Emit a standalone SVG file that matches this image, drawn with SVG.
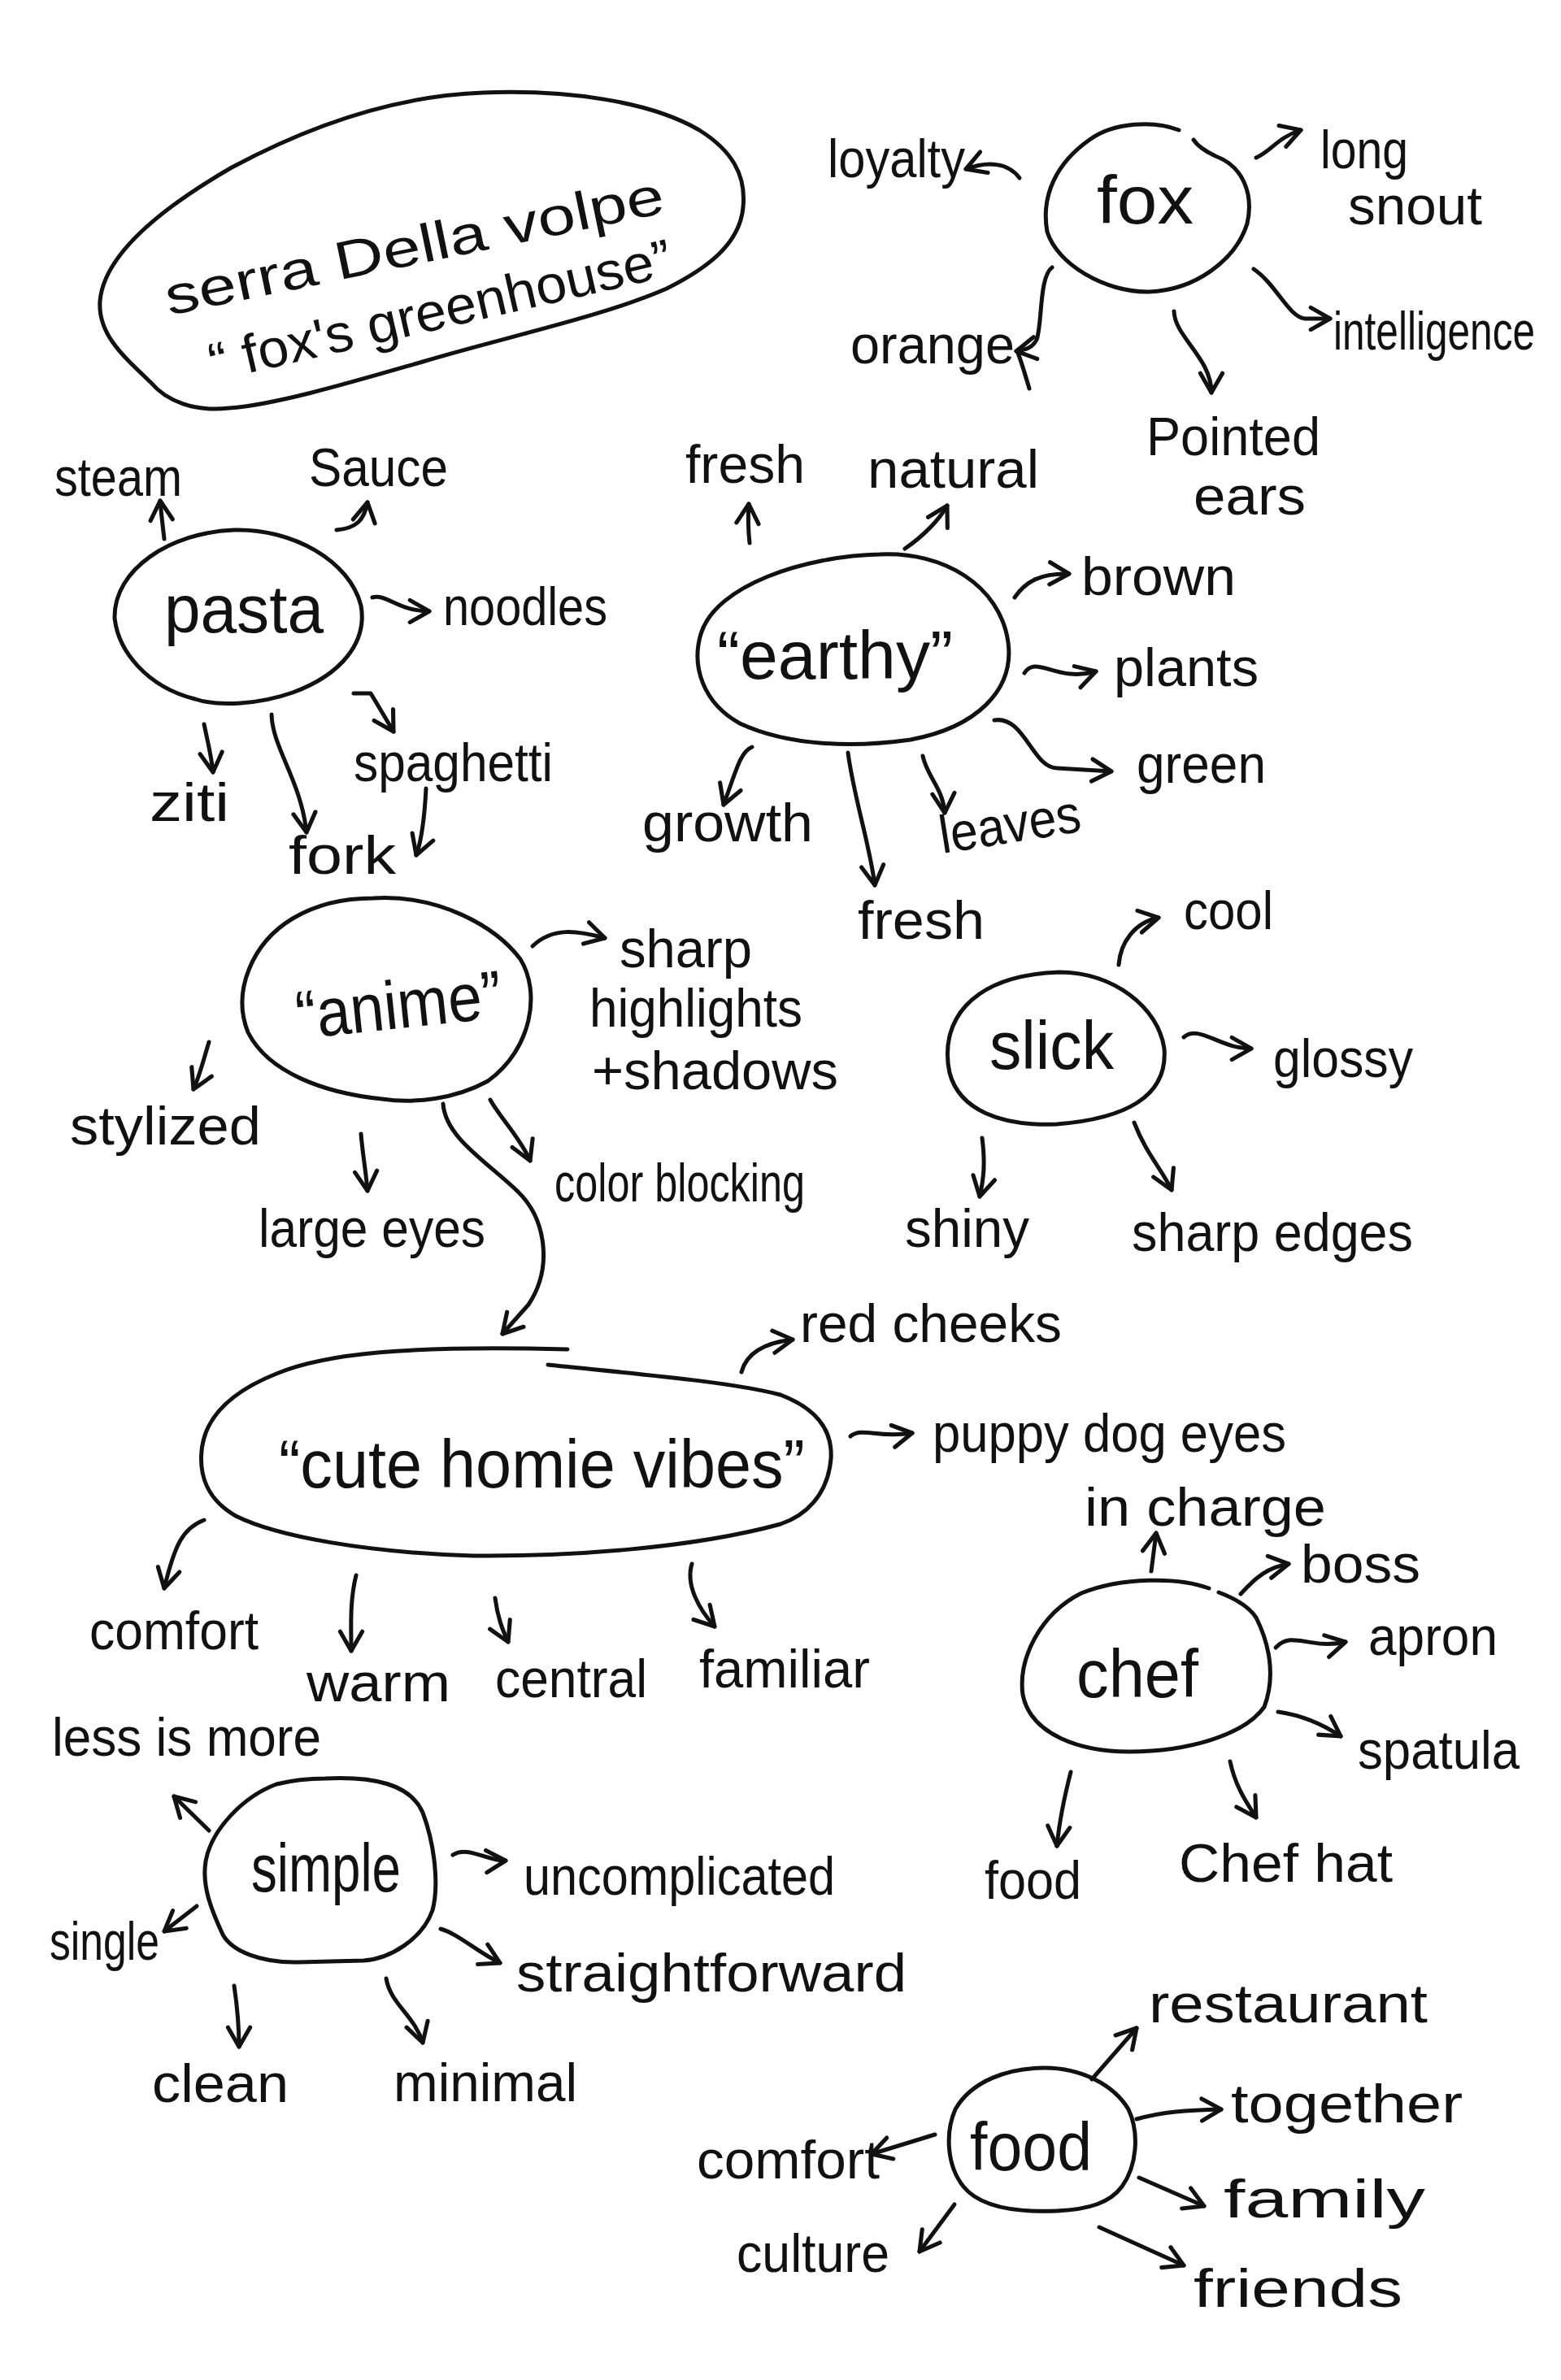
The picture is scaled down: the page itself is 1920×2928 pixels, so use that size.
<svg xmlns="http://www.w3.org/2000/svg" width="1920" height="2928" viewBox="0 0 1920 2928">
<style>
.t{font-family:"Liberation Sans",Arial,sans-serif;font-size:66px;fill:#111}
.n{font-size:84px}
.b{fill:none;stroke:#111;stroke-width:5;stroke-linecap:round;stroke-linejoin:round}
.c{fill:none;stroke:#111;stroke-width:5;stroke-linecap:round;stroke-linejoin:round;marker-end:url(#ah)}
</style>
<defs>
<marker id="ah" viewBox="0 0 20 20" refX="17" refY="10" markerWidth="34" markerHeight="34" markerUnits="userSpaceOnUse" orient="auto">
<path d="M3,2 L17,10 L3,18" fill="none" stroke="#111" stroke-width="3" stroke-linecap="round" stroke-linejoin="round"/>
</marker>
</defs>
<rect width="1920" height="2928" fill="#fff"/>

<g id="title">
<path class="b" d="M282,502 C240,507 205,494 185,470 C150,437 120,410 123,370 C128,315 195,258 285,206 C380,155 485,118 594,114 C700,110 800,125 860,160 C900,185 918,215 914,255 C910,300 870,330 820,355 C740,390 620,415 520,445 C440,468 340,498 282,502 Z"/>
<text class="t" x="208" y="388" font-size="90" textLength="625" lengthAdjust="spacingAndGlyphs" transform="rotate(-11.7 208 388)">serra Della volpe</text>
<text class="t" x="263" y="469" font-size="66" textLength="582" lengthAdjust="spacingAndGlyphs" transform="rotate(-13 263 469)">“ fox's greenhouse”</text>
</g>

<g id="fox">
<path class="b" d="M1450,160 C1420,148 1370,150 1340,172 C1300,200 1280,240 1288,285 C1300,325 1360,360 1413,359 C1470,357 1520,320 1534,275 C1542,240 1530,205 1495,192 C1480,185 1472,178 1468,172"/>
<text class="t n" x="1349" y="275" textLength="119" lengthAdjust="spacingAndGlyphs">fox</text>
</g>
<g id="pasta">
<path class="b" d="M288,652 C360,650 430,690 444,745 C452,790 420,830 360,852 C320,866 270,870 240,860 C180,845 145,800 141,760 C140,700 210,655 288,652 Z"/>
<text class="t n" x="202" y="778" textLength="196" lengthAdjust="spacingAndGlyphs">pasta</text>
</g>
<g id="earthy">
<path class="b" d="M1082,682 C1160,678 1230,720 1240,790 C1248,850 1200,895 1120,910 C1050,920 970,918 910,890 C865,865 850,820 862,780 C880,720 990,684 1082,682 Z"/>
<text class="t n" x="882" y="835" textLength="290" lengthAdjust="spacingAndGlyphs">“earthy”</text>
</g>
<g id="anime">
<path class="b" d="M459,1105 C540,1100 610,1140 640,1180 C665,1220 655,1290 600,1330 C560,1352 510,1358 470,1352 C400,1345 330,1320 305,1270 C285,1220 310,1160 360,1130 C390,1112 425,1105 459,1105 Z"/>
<text class="t n" x="364" y="1265" textLength="254" lengthAdjust="spacingAndGlyphs" transform="rotate(-6 491 1240)">“anime”</text>
</g>
<g id="slick">
<path class="b" d="M1303,1196 C1370,1196 1425,1240 1432,1290 C1436,1340 1400,1375 1300,1383 C1230,1386 1180,1365 1168,1320 C1155,1260 1190,1200 1303,1196 Z"/>
<text class="t n" x="1217" y="1315" textLength="153" lengthAdjust="spacingAndGlyphs">slick</text>
</g>
<g id="cute">
<path class="b" d="M674,1679 C780,1690 900,1700 960,1716 C1010,1735 1024,1765 1022,1795 C1018,1840 990,1865 960,1875 C850,1905 700,1915 582,1914 C450,1910 340,1890 290,1865 C255,1845 245,1815 248,1785 C252,1740 290,1710 340,1690 C400,1665 500,1655 698,1660"/>
<text class="t n" x="343" y="1830" textLength="647" lengthAdjust="spacingAndGlyphs">“cute homie vibes”</text>
</g>
<g id="chef">
<path class="b" d="M1487,1954 C1450,1940 1380,1940 1330,1960 C1280,1985 1252,2040 1258,2085 C1268,2135 1330,2155 1389,2155 C1460,2155 1530,2135 1555,2100 C1570,2060 1560,2020 1545,1990 C1535,1975 1515,1965 1499,1959"/>
<text class="t n" x="1324" y="2088" textLength="150" lengthAdjust="spacingAndGlyphs">chef</text>
</g>
<g id="simple">
<path class="b" d="M400,2188 C460,2185 505,2195 520,2230 C535,2270 540,2320 532,2350 C520,2385 480,2410 447,2412 L367,2414 C320,2415 285,2400 274,2380 C260,2350 248,2320 253,2290 C260,2250 300,2210 340,2195 C360,2190 380,2188 400,2188 Z"/>
<text class="t n" x="309" y="2327" textLength="184" lengthAdjust="spacingAndGlyphs">simple</text>
</g>
<g id="food">
<path class="b" d="M1285,2544 C1330,2544 1370,2565 1388,2595 C1402,2625 1398,2665 1380,2690 C1365,2710 1340,2718 1300,2720 C1250,2722 1205,2715 1185,2690 C1165,2665 1162,2625 1175,2595 C1195,2560 1240,2544 1285,2544 Z"/>
<text class="t n" x="1193" y="2670" textLength="150" lengthAdjust="spacingAndGlyphs">food</text>
</g>

<g id="labels">
<g id="l-steam"><text class="t" x="67" y="610" textLength="157" lengthAdjust="spacingAndGlyphs">steam</text></g>
<g id="l-sauce"><text class="t" x="380" y="598" textLength="171" lengthAdjust="spacingAndGlyphs">Sauce</text></g>
<g id="l-noodles"><text class="t" x="545" y="769" textLength="202" lengthAdjust="spacingAndGlyphs">noodles</text></g>
<g id="l-ziti"><text class="t" x="184" y="1010" textLength="98" lengthAdjust="spacingAndGlyphs">ziti</text></g>
<g id="l-spaghetti"><text class="t" x="435" y="961" textLength="245" lengthAdjust="spacingAndGlyphs">spaghetti</text></g>
<g id="l-fork"><text class="t" x="355" y="1075" textLength="132" lengthAdjust="spacingAndGlyphs">fork</text></g>
<g id="l-fresh1"><text class="t" x="843" y="594" textLength="147" lengthAdjust="spacingAndGlyphs">fresh</text></g>
<g id="l-natural"><text class="t" x="1067" y="600" textLength="211" lengthAdjust="spacingAndGlyphs">natural</text></g>
<g id="l-pointed"><text class="t" x="1410" y="560" textLength="214" lengthAdjust="spacingAndGlyphs">Pointed</text></g>
<g id="l-ears"><text class="t" x="1468" y="633" textLength="138" lengthAdjust="spacingAndGlyphs">ears</text></g>
<g id="l-loyalty"><text class="t" x="1018" y="218" textLength="169" lengthAdjust="spacingAndGlyphs">loyalty</text></g>
<g id="l-long"><text class="t" x="1624" y="207" textLength="108" lengthAdjust="spacingAndGlyphs">long</text></g>
<g id="l-snout"><text class="t" x="1658" y="276" textLength="165" lengthAdjust="spacingAndGlyphs">snout</text></g>
<g id="l-orange"><text class="t" x="1046" y="447" textLength="202" lengthAdjust="spacingAndGlyphs">orange</text></g>
<g id="l-intelligence"><text class="t" x="1640" y="430" font-size="56" textLength="248" lengthAdjust="spacingAndGlyphs">intelligence</text></g>
<g id="l-brown"><text class="t" x="1330" y="732" textLength="190" lengthAdjust="spacingAndGlyphs">brown</text></g>
<g id="l-plants"><text class="t" x="1370" y="844" textLength="178" lengthAdjust="spacingAndGlyphs">plants</text></g>
<g id="l-green"><text class="t" x="1398" y="963" textLength="159" lengthAdjust="spacingAndGlyphs">green</text></g>
<g id="l-growth"><text class="t" x="790" y="1035" textLength="210" lengthAdjust="spacingAndGlyphs">growth</text></g>
<g id="l-leaves"><text class="t" x="1159" y="1050" textLength="175" lengthAdjust="spacingAndGlyphs" transform="rotate(-9 1159 1050)">leaves</text></g>
<g id="l-fresh2"><text class="t" x="1055" y="1155" textLength="156" lengthAdjust="spacingAndGlyphs">fresh</text></g>
<g id="l-sharp"><text class="t" x="762" y="1190" textLength="163" lengthAdjust="spacingAndGlyphs">sharp</text></g>
<g id="l-highlights"><text class="t" x="725" y="1263" textLength="262" lengthAdjust="spacingAndGlyphs">highlights</text></g>
<g id="l-shadows"><text class="t" x="728" y="1340" textLength="303" lengthAdjust="spacingAndGlyphs">+shadows</text></g>
<g id="l-stylized"><text class="t" x="86" y="1408" textLength="235" lengthAdjust="spacingAndGlyphs">stylized</text></g>
<g id="l-largeeyes"><text class="t" x="318" y="1534" textLength="279" lengthAdjust="spacingAndGlyphs">large eyes</text></g>
<g id="l-colorblocking"><text class="t" x="682" y="1478" textLength="308" lengthAdjust="spacingAndGlyphs">color blocking</text></g>
<g id="l-cool"><text class="t" x="1456" y="1143" textLength="110" lengthAdjust="spacingAndGlyphs">cool</text></g>
<g id="l-glossy"><text class="t" x="1566" y="1325" textLength="172" lengthAdjust="spacingAndGlyphs">glossy</text></g>
<g id="l-shiny"><text class="t" x="1113" y="1534" textLength="153" lengthAdjust="spacingAndGlyphs">shiny</text></g>
<g id="l-sharpedges"><text class="t" x="1392" y="1539" textLength="346" lengthAdjust="spacingAndGlyphs">sharp edges</text></g>
<g id="l-redcheeks"><text class="t" x="984" y="1651" textLength="322" lengthAdjust="spacingAndGlyphs">red cheeks</text></g>
<g id="l-puppy"><text class="t" x="1147" y="1786" textLength="435" lengthAdjust="spacingAndGlyphs">puppy dog eyes</text></g>
<g id="l-comfort1"><text class="t" x="110" y="2029" textLength="208" lengthAdjust="spacingAndGlyphs">comfort</text></g>
<g id="l-warm"><text class="t" x="377" y="2093" textLength="177" lengthAdjust="spacingAndGlyphs">warm</text></g>
<g id="l-central"><text class="t" x="609" y="2088" textLength="187" lengthAdjust="spacingAndGlyphs">central</text></g>
<g id="l-familiar"><text class="t" x="860" y="2076" textLength="210" lengthAdjust="spacingAndGlyphs">familiar</text></g>
<g id="l-incharge"><text class="t" x="1334" y="1877" textLength="297" lengthAdjust="spacingAndGlyphs">in charge</text></g>
<g id="l-boss"><text class="t" x="1600" y="1947" textLength="147" lengthAdjust="spacingAndGlyphs">boss</text></g>
<g id="l-apron"><text class="t" x="1683" y="2036" textLength="159" lengthAdjust="spacingAndGlyphs">apron</text></g>
<g id="l-spatula"><text class="t" x="1670" y="2176" textLength="199" lengthAdjust="spacingAndGlyphs">spatula</text></g>
<g id="l-lessismore"><text class="t" x="64" y="2160" textLength="331" lengthAdjust="spacingAndGlyphs">less is more</text></g>
<g id="l-uncomplicated"><text class="t" x="644" y="2331" textLength="383" lengthAdjust="spacingAndGlyphs">uncomplicated</text></g>
<g id="l-single"><text class="t" x="61" y="2411" textLength="135" lengthAdjust="spacingAndGlyphs">single</text></g>
<g id="l-straightforward"><text class="t" x="635" y="2450" textLength="480" lengthAdjust="spacingAndGlyphs">straightforward</text></g>
<g id="l-clean"><text class="t" x="187" y="2586" textLength="168" lengthAdjust="spacingAndGlyphs">clean</text></g>
<g id="l-minimal"><text class="t" x="484" y="2585" textLength="226" lengthAdjust="spacingAndGlyphs">minimal</text></g>
<g id="l-food2"><text class="t" x="1211" y="2336" textLength="119" lengthAdjust="spacingAndGlyphs">food</text></g>
<g id="l-chefhat"><text class="t" x="1450" y="2315" textLength="263" lengthAdjust="spacingAndGlyphs">Chef hat</text></g>
<g id="l-restaurant"><text class="t" x="1413" y="2488" textLength="343" lengthAdjust="spacingAndGlyphs">restaurant</text></g>
<g id="l-together"><text class="t" x="1514" y="2611" textLength="285" lengthAdjust="spacingAndGlyphs">together</text></g>
<g id="l-family"><text class="t" x="1505" y="2728" textLength="248" lengthAdjust="spacingAndGlyphs">family</text></g>
<g id="l-friends"><text class="t" x="1468" y="2838" textLength="257" lengthAdjust="spacingAndGlyphs">friends</text></g>
<g id="l-comfort2"><text class="t" x="857" y="2680" textLength="225" lengthAdjust="spacingAndGlyphs">comfort</text></g>
<g id="l-culture"><text class="t" x="906" y="2795" textLength="188" lengthAdjust="spacingAndGlyphs">culture</text></g>
</g>

<g id="connectors">
<path class="c" d="M202,663 C200,645 198,630 197,616"/>
<path class="c" d="M414,652 C438,650 448,640 452,618"/>
<path class="c" d="M458,735 C475,730 490,752 528,752"/>
<path class="c" d="M251,891 C256,915 260,930 262,950"/>
<path class="c" d="M334,879 C335,920 370,960 377,1024"/>
<path class="c" d="M435,853 L456,853 L484,900"/>
<path class="c" d="M524,970 C522,1010 518,1035 512,1052"/>
<path class="c" d="M922,668 C920,650 920,635 921,620"/>
<path class="c" d="M1113,675 C1135,660 1155,640 1165,622"/>
<path class="c" d="M1254,219 C1240,200 1215,198 1188,208"/>
<path class="c" d="M1545,194 C1565,185 1570,170 1600,160"/>
<path class="c" d="M1294,329 C1278,340 1282,400 1275,418 C1270,428 1262,430 1250,432"/>
<path class="b" d="M1252,434 C1258,450 1262,465 1266,478"/>
<path class="c" d="M1444,383 C1445,415 1490,440 1490,483"/>
<path class="c" d="M1542,331 C1570,350 1585,390 1605,392 L1636,392"/>
<path class="c" d="M1248,735 C1262,715 1280,705 1315,706"/>
<path class="c" d="M1260,828 C1275,805 1300,840 1348,826"/>
<path class="c" d="M1223,886 C1260,880 1270,945 1300,945 L1367,949"/>
<path class="c" d="M925,919 C910,925 905,950 890,990"/>
<path class="c" d="M1043,926 C1050,980 1070,1040 1076,1089"/>
<path class="c" d="M1135,930 C1140,955 1160,970 1162,1000"/>
<path class="c" d="M655,1164 C680,1140 710,1145 744,1154"/>
<path class="c" d="M257,1282 C250,1305 245,1325 238,1340"/>
<path class="c" d="M444,1395 C446,1420 450,1440 452,1465"/>
<path class="c" d="M603,1353 C615,1375 640,1400 652,1428"/>
<path class="c" d="M545,1358 C548,1400 600,1430 637,1466 C672,1500 680,1560 650,1605 L618,1641"/>
<path class="c" d="M1376,1187 C1378,1160 1395,1135 1425,1129"/>
<path class="c" d="M1456,1276 C1475,1260 1500,1290 1539,1290"/>
<path class="c" d="M1208,1400 C1212,1430 1210,1450 1205,1472"/>
<path class="c" d="M1395,1381 C1410,1420 1430,1440 1441,1464"/>
<path class="c" d="M912,1688 C918,1665 940,1652 975,1648"/>
<path class="c" d="M1046,1767 C1060,1755 1080,1770 1122,1763"/>
<path class="c" d="M251,1870 C225,1880 215,1900 202,1954"/>
<path class="c" d="M438,1938 C430,1970 432,2000 432,2031"/>
<path class="c" d="M609,1966 C612,1990 618,2005 625,2020"/>
<path class="c" d="M851,1924 C843,1950 860,1980 879,2001"/>
<path class="c" d="M1416,1933 L1422,1886"/>
<path class="c" d="M1526,1961 C1545,1940 1560,1928 1585,1924"/>
<path class="c" d="M1569,2027 C1590,2005 1610,2030 1655,2020"/>
<path class="c" d="M1572,2106 C1600,2110 1625,2120 1649,2136"/>
<path class="c" d="M1317,2180 C1308,2215 1302,2250 1300,2271"/>
<path class="c" d="M1513,2167 C1520,2200 1535,2220 1545,2236"/>
<path class="c" d="M257,2252 L214,2210"/>
<path class="c" d="M557,2282 C575,2270 600,2290 622,2289"/>
<path class="c" d="M242,2345 L202,2376"/>
<path class="c" d="M542,2373 C565,2380 585,2400 615,2415"/>
<path class="c" d="M288,2443 C292,2470 294,2495 294,2518"/>
<path class="c" d="M475,2434 C480,2465 510,2480 520,2513"/>
<path class="c" d="M1343,2558 L1398,2495"/>
<path class="c" d="M1398,2607 C1430,2598 1460,2596 1502,2595"/>
<path class="c" d="M1401,2679 L1481,2714"/>
<path class="c" d="M1352,2740 L1456,2787"/>
<path class="c" d="M1150,2626 L1072,2650"/>
<path class="c" d="M1174,2712 L1131,2770"/>
</g>
</svg>
